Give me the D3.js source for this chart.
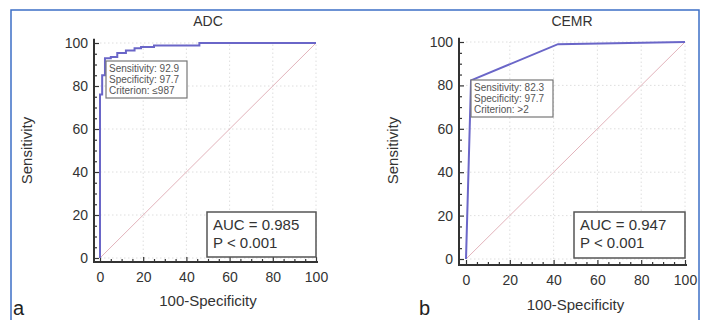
<!DOCTYPE html>
<html><head><meta charset="utf-8">
<script src="https://cdn.jsdelivr.net/npm/d3@7"></script>
<style>body{margin:0;background:#fff}svg{display:block;font-family:"Liberation Sans",Arial,sans-serif}</style>
</head><body><svg id="c" width="706" height="320"></svg>
<script>
// ---- data ----
const panelNames = ["ADC", "CEMR"];
const panelLetters = ["a", "b"];
const adcFPR = [0, 0, 1, 1, 2.3, 2.3, 5, 5, 8, 8, 12, 12, 16, 16, 19, 19, 25, 25, 46, 46, 100];
const adcTPR = [0, 76, 76, 85, 85, 92.9, 92.9, 93.5, 93.5, 95.3, 95.3, 96.5, 96.5, 97.6, 97.6, 98.1, 98.1, 98.8, 98.8, 100, 100];
const cemrFPR = [0, 2.3, 42, 100];
const cemrTPR = [0, 82.3, 99, 100];
const tickValues = [0, 20, 40, 60, 80, 100];
const criterionLines = [
  ["Sensitivity: 92.9", "Specificity: 97.7", "Criterion: \u2264987"],
  ["Sensitivity: 82.3", "Specificity: 97.7", "Criterion: >2"]
];
const aucLines = [
  ["AUC = 0.985", "P < 0.001"],
  ["AUC = 0.947", "P < 0.001"]
];
const xLabel = "100-Specificity";
const yLabel = "Sensitivity";

// ---- layout ----
const svg = d3.select("#c");
svg.append("rect").attr("x", 11).attr("y", 10).attr("width", 688).attr("height", 330)
  .attr("fill", "none").attr("stroke", "#3d6fc6").attr("stroke-width", 1.5);

const panels = [
  {fpr: adcFPR, tpr: adcTPR, xr: [100, 316], yr: [258, 43], axX: 94, axY: 262, titleX: 208, labX: 27, xLabY: 301,
   letX: 13, critBox: [106, 61, 81, 37], aucBox: [207, 212, 109, 45]},
  {fpr: cemrFPR, tpr: cemrTPR, xr: [466, 685], yr: [259, 42], axX: 459, axY: 265, titleX: 572, labX: 393, xLabY: 305,
   letX: 419, critBox: [471, 80, 82, 37], aucBox: [574, 212, 111, 46]}
];

panels.forEach((p, i) => {
  const x = d3.scaleLinear().domain([0, 100]).range(p.xr);
  const y = d3.scaleLinear().domain([0, 100]).range(p.yr);
  const g = svg.append("g");

  // grid
  g.selectAll(".gx").data(tickValues.slice(1)).join("line")
    .attr("x1", d => x(d)).attr("x2", d => x(d)).attr("y1", y(0)).attr("y2", y(100))
    .attr("stroke", "#d6d6d6").attr("stroke-width", 0.8).attr("stroke-dasharray", "1.5,2.5");
  g.selectAll(".gy").data(tickValues).join("line")
    .attr("x1", x(0)).attr("x2", x(100)).attr("y1", d => y(d)).attr("y2", d => y(d))
    .attr("stroke", "#d6d6d6").attr("stroke-width", 0.8).attr("stroke-dasharray", "1.5,2.5");

  // diagonal
  g.append("line").attr("x1", x(0)).attr("y1", y(0)).attr("x2", x(100)).attr("y2", y(100))
    .attr("stroke", "#e2b3bb").attr("stroke-width", 1);

  // axes
  const yAx = g.append("g").attr("transform", `translate(${p.axX},0)`)
    .call(d3.axisLeft(y).tickValues(tickValues).tickSize(-5).tickPadding(6));
  const yMin = g.append("g").attr("transform", `translate(${p.axX},0)`)
    .call(d3.axisLeft(y).tickValues(d3.range(0, 101, 5).filter(v => v % 20)).tickSize(-3).tickFormat(""));
  const xAx = g.append("g").attr("transform", `translate(0,${p.axY})`)
    .call(d3.axisBottom(x).tickValues(tickValues).tickSize(-5).tickPadding(7));
  const xMin = g.append("g").attr("transform", `translate(0,${p.axY})`)
    .call(d3.axisBottom(x).tickValues(d3.range(0, 101, 5).filter(v => v % 20)).tickSize(-3).tickFormat(""));
  [yAx, yMin, xAx, xMin].forEach(a => {
    a.select(".domain").remove();
    a.selectAll(".tick line").attr("stroke", "#333").attr("stroke-width", 1.2);
    a.selectAll("text").attr("font-size", 14).attr("fill", "#333")
      .attr("font-family", "'Liberation Sans', Arial, sans-serif");
  });
  xAx.selectAll("text").attr("dy", "0.9em");
  g.append("line").attr("x1", p.axX).attr("x2", p.axX).attr("y1", y(102)).attr("y2", p.axY + 1)
    .attr("stroke", "#333").attr("stroke-width", 2);
  g.append("line").attr("x1", p.axX - 1).attr("x2", x(100) + 2).attr("y1", p.axY).attr("y2", p.axY)
    .attr("stroke", "#333").attr("stroke-width", 2);

  // ROC curve
  const pts = p.fpr.map((f, k) => [f, p.tpr[k]]);
  g.append("path").datum(pts)
    .attr("d", d3.line().x(d => x(d[0])).y(d => y(d[1])))
    .attr("fill", "none").attr("stroke", "#6a66c8").attr("stroke-width", 2);

  // title & labels
  g.append("text").attr("x", p.titleX).attr("y", 26).attr("text-anchor", "middle")
    .attr("font-size", 14).attr("fill", "#333").text(panelNames[i]);
  g.append("text").attr("transform", `translate(${p.labX},${(p.yr[0] + p.yr[1]) / 2}) rotate(-90)`)
    .attr("text-anchor", "middle").attr("dy", "0.35em").attr("font-size", 15).attr("fill", "#333").text(yLabel);
  g.append("text").attr("x", (p.xr[0] + p.xr[1]) / 2).attr("y", p.xLabY).attr("text-anchor", "middle")
    .attr("dy", "0.35em").attr("font-size", 15).attr("fill", "#333").text(xLabel);
  g.append("text").attr("x", p.letX).attr("y", 315).attr("font-size", 20).attr("fill", "#222")
    .text(panelLetters[i]);

  // criterion box
  const cb = p.critBox;
  g.append("rect").attr("x", cb[0]).attr("y", cb[1]).attr("width", cb[2]).attr("height", cb[3])
    .attr("fill", "#fff").attr("stroke", "#777").attr("stroke-width", 1.2);
  criterionLines[i].forEach((t, k) => {
    g.append("text").attr("x", cb[0] + 3).attr("y", cb[1] + 7.5 + k * 11).attr("dy", "0.35em")
      .attr("font-size", 10).attr("fill", "#555").text(t);
  });

  // AUC box
  const ab = p.aucBox;
  g.append("rect").attr("x", ab[0]).attr("y", ab[1]).attr("width", ab[2]).attr("height", ab[3])
    .attr("fill", "#fff").attr("stroke", "#555").attr("stroke-width", 1.5);
  aucLines[i].forEach((t, k) => {
    g.append("text").attr("x", ab[0] + 6).attr("y", ab[1] + 13 + k * 18).attr("dy", "0.35em")
      .attr("font-size", 15).attr("fill", "#333").text(t);
  });
});
</script></body></html>
